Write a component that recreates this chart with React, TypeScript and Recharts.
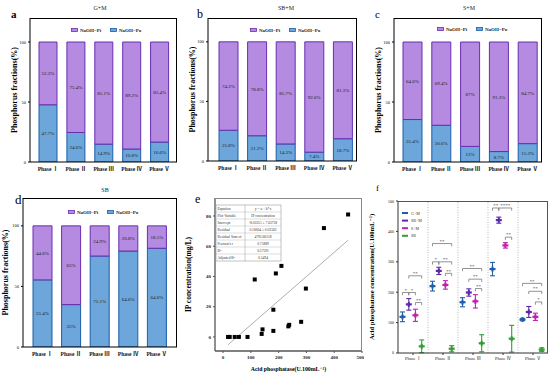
import {
  BarChart,
  Bar,
  XAxis,
  YAxis,
  LabelList,
  Legend,
  ScatterChart,
  Scatter,
  ErrorBar,
  ReferenceLine,
} from "recharts";

const SERIF = '"Liberation Serif", "Noto Sans CJK SC", "DejaVu Serif", serif';

const phases = ["Phase Ⅰ", "Phase Ⅱ", "Phase Ⅲ", "Phase Ⅳ", "Phase Ⅴ"];

// a – G+M
const gmPo = [47.7, 24.6, 14.9, 10.8, 16.6];
const gmPi = [52.3, 75.4, 85.1, 89.2, 83.4];
// b – SB+M
const sbmPo = [25.8, 21.2, 14.3, 7.4, 18.7];
const sbmPi = [74.2, 78.8, 85.7, 92.6, 81.3];
// c – S+M
const smPo = [35.4, 30.6, 13, 8.7, 15.3];
const smPi = [64.6, 69.4, 87, 91.3, 84.7];
// d – SB (printed labels of the last two Po bars say 64.6%)
const sbPo = [55.4, 35, 75.1, 79.2, 81.5];
const sbPi = [44.6, 65, 24.9, 20.8, 18.5];
const sbPoText = ["55.4%", "35%", "75.1%", "64.6%", "64.6%"];

// e – IP vs acid phosphatase
const acpValues = [18, 24, 42, 57, 88, 114, 139, 142, 181, 181, 190, 210, 235, 238, 281, 298, 363, 450];
const ipValues = [0, 0, 0, 0, 0, 38, 2, 5, 4, 18, 42, 47, 7, 8, 10, 32, 72, 81];
const fitIntercept = -8.03351;
const fitSlope = 0.16004;
const statNames = ["Equation", "Plot Variable", "Intercept", "Residual", "Residual Sum of", "Pearson's r", "R²", "Adjusted R²"];
const statValues = ["y = a + b*x", "IP concentration", "-8.03351 ± 7.63758", "0.16004 ± 0.03562", "4793.66518", "0.75889", "0.57591", "0.5494"];

// f – acid phosphatase by phase
const groupNames = ["G+M", "SB+M", "S+M", "SB"];
const gmAcp = [119, 220, 167, 276, 110];
const gmSd = [16, 16, 15, 22, 4];
const sbmAcp = [160, 270, 199, 437, 135];
const sbmSd = [19, 12, 12, 10, 18];
const smAcp = [124, 224, 170, 354, 119];
const smSd = [20, 14, 22, 9, 12];
const sbAcp = [22, 14, 32, 47, 11];
const sbSd = [21, 10, 28, 44, 6];
// significance brackets: phase, from group, to group, height, stars
const brPhase = [0, 0, 0, 0, 1, 1, 1, 1, 2, 2, 2, 3, 3, 3, 4, 4, 4];
const brFrom = [0, 1, 1, 2, 0, 0, 1, 2, 0, 1, 2, 0, 1, 2, 0, 1, 2];
const brTo = [1, 2, 3, 3, 3, 1, 3, 3, 3, 3, 3, 1, 3, 3, 3, 3, 3];
const brLevel = [199, 199, 254, 166, 360, 300, 300, 262, 278, 243, 212, 477, 477, 381, 229, 203, 168];
const brStars = ["*", "*", "**", "**", "**", "*", "**", "**", "**", "**", "**", "**", "****", "**", "**", "**", "*"];

const PURPLE_FILL = "#b48be0";
const PURPLE_LINE = "#6a2db2";
const BLUE_FILL = "#6ca6da";
const BLUE_LINE = "#1b5ea8";
const legendNames = ["NaOH−Pi", "NaOH−Po"];
const groupColors = ["#1f5fa8", "#5a2aa8", "#c21fae", "#2f9e32"];
const slot = [0.15, 0.36, 0.58, 0.79];

const pct = (v: number) => `${v}%`;

const stackPanels = [
  { key: "a", po: gmPo, pi: gmPi, poText: gmPo.map(pct), left: 30, top: 18, w: 147, h: 144, max: 120, padL: 4, padR: 3.5, bar: 18, legX: 71, legY: 30, labOff: 14 },
  { key: "b", po: sbmPo, pi: sbmPi, poText: sbmPo.map(pct), left: 208, top: 18, w: 149, h: 143, max: 120, padL: 6, padR: 0, bar: 19, legX: 250, legY: 30, labOff: 14 },
  { key: "c", po: smPo, pi: smPi, poText: smPo.map(pct), left: 394, top: 18, w: 148, h: 144, max: 120, padL: 4, padR: 0, bar: 19, legX: 437, legY: 29, labOff: 14 },
  { key: "d", po: sbPo, pi: sbPi, poText: sbPoText, left: 23, top: 198, w: 154, h: 149, max: 123, padL: 5, padR: 6, bar: 19, legX: 68, legY: 212, labOff: 12 },
];

function StackLegend() {
  const fills = [PURPLE_FILL, BLUE_FILL];
  const lines = [PURPLE_LINE, BLUE_LINE];
  return (
    <svg width={80} height={8} style={{ display: "block", overflow: "visible" }}>
      {legendNames.map((name, i) => (
        <g key={name} transform={`translate(${i * 39},0)`}>
          <rect x={0.5} y={2.5} width={6} height={3} fill={fills[i]} stroke={lines[i]} strokeWidth={0.8} />
          <text x={9} y={5.8} fontSize={5} fontWeight={700} fontFamily={SERIF} fill="#222">
            {name}
          </text>
        </g>
      ))}
    </svg>
  );
}

function StackPanel({ p }: { p: (typeof stackPanels)[number] }) {
  const yw = 30;
  const xh = 18;
  const mt = 2;
  const mr = 3;
  const originX = p.left - yw;
  const originY = p.top - mt;
  const data = phases.map((phase, i) => ({
    phase,
    po: p.po[i],
    pi: p.pi[i],
    poText: p.poText[i],
    piText: pct(p.pi[i]),
  }));

  return (
    <div style={{ position: "absolute", left: originX, top: originY }}>
      <BarChart
        width={yw + p.w + mr}
        height={mt + p.h + xh}
        data={data}
        margin={{ top: mt, right: mr, left: 0, bottom: 0 }}
        barSize={p.bar}
      >
        <XAxis
          dataKey="phase"
          height={xh}
          interval={0}
          padding={{ left: p.padL, right: p.padR }}
          tickLine={false}
          tickSize={3}
          axisLine={{ stroke: "#000" }}
          tick={{ fontSize: 5.5, fontWeight: 700, fill: "#111", fontFamily: SERIF }}
        />
        <YAxis
          width={yw}
          type="number"
          domain={[0, p.max]}
          ticks={[0, 50, 100]}
          allowDataOverflow
          tickSize={2}
          axisLine={{ stroke: "#000" }}
          tickLine={{ stroke: "#000" }}
          tick={{ fontSize: 4.5, fill: "#111", fontFamily: SERIF }}
          label={{
            value: "Phosphorus fractions(%)",
            angle: -90,
            position: "insideLeft",
            offset: p.labOff,
            style: { textAnchor: "middle", fontSize: 8, fontWeight: 700, fill: "#000", fontFamily: SERIF },
          }}
        />
        <Legend
          layout="horizontal"
          verticalAlign="middle"
          align="center"
          wrapperStyle={{ left: p.legX - originX, top: p.legY - 4 - originY, width: "auto", height: "auto" }}
          content={() => <StackLegend />}
        />
        <Bar dataKey="po" name="NaOH−Po" stackId="p" fill={BLUE_FILL} stroke={BLUE_LINE} strokeWidth={1} isAnimationActive={false}>
          <LabelList dataKey="poText" position="center" fontSize={5} fill="#222" fontFamily={SERIF} />
        </Bar>
        <Bar dataKey="pi" name="NaOH−Pi" stackId="p" fill={PURPLE_FILL} stroke={PURPLE_LINE} strokeWidth={1} isAnimationActive={false}>
          <LabelList dataKey="piText" position="center" fontSize={5} fill="#222" fontFamily={SERIF} />
        </Bar>
      </BarChart>
      <div
        style={{
          position: "absolute",
          left: yw,
          top: mt,
          width: p.w,
          height: p.h,
          borderTop: "1px solid #000",
          borderRight: "1px solid #000",
          boxSizing: "border-box",
          pointerEvents: "none",
        }}
      />
    </div>
  );
}

const SquareDot = (props: any) => (
  <rect x={props.cx - 2} y={props.cy - 2} width={4} height={4} fill="#000" />
);

function PanelE() {
  const points = acpValues.map((x, i) => ({ x, y: ipValues[i] }));
  const xMin = Math.min(...acpValues);
  const xMax = Math.max(...acpValues);
  return (
    <div style={{ position: "absolute", left: 180, top: 196 }}>
      <ScatterChart width={184} height={179} margin={{ top: 2, right: 2, left: 0, bottom: 0 }}>
        <XAxis
          type="number"
          dataKey="x"
          domain={[-29, 500]}
          ticks={[0, 100, 200, 300, 400, 500]}
          allowDataOverflow
          height={24}
          tickSize={2}
          axisLine={{ stroke: "#555", strokeWidth: 1.3 }}
          tickLine={{ stroke: "#555" }}
          tick={{ fontSize: 5, fontWeight: 700, fill: "#222", fontFamily: SERIF }}
          label={{
            value: "Acid phosphatase(U.100mL⁻¹)",
            position: "insideBottom",
            offset: 4,
            style: { fontSize: 5.8, fontWeight: 700, fill: "#000", fontFamily: SERIF },
          }}
        />
        <YAxis
          type="number"
          dataKey="y"
          domain={[-9.3, 91.9]}
          ticks={[0, 20, 40, 60, 80]}
          allowDataOverflow
          width={35}
          tickSize={2}
          axisLine={{ stroke: "#555", strokeWidth: 1.3 }}
          tickLine={{ stroke: "#555" }}
          tick={{ fontSize: 5, fontWeight: 700, fill: "#222", fontFamily: SERIF }}
          label={{
            value: "IP concentration(mg/L)",
            angle: -90,
            position: "insideLeft",
            offset: 8,
            style: { textAnchor: "middle", fontSize: 7.5, fontWeight: 700, fill: "#000", fontFamily: SERIF },
          }}
        />
        <ReferenceLine
          segment={[
            { x: xMin, y: fitIntercept + fitSlope * xMin },
            { x: xMax, y: fitIntercept + fitSlope * xMax },
          ]}
          stroke="#999"
          strokeWidth={0.8}
        />
        <Scatter data={points} fill="#000" shape={SquareDot} isAnimationActive={false} />
      </ScatterChart>
      <div
        style={{
          position: "absolute",
          left: 35,
          top: 2,
          width: 147,
          height: 153,
          borderTop: "1.5px solid #888",
          borderRight: "1.5px solid #888",
          boxSizing: "border-box",
          pointerEvents: "none",
        }}
      />
    </div>
  );
}

function PlusMark(props: any) {
  const { cx, cy, fill } = props;
  return (
    <g>
      <line x1={cx - 3} x2={cx + 3} y1={cy} y2={cy} stroke={fill} strokeWidth={2.2} />
      <line x1={cx} x2={cx} y1={cy - 2.5} y2={cy + 2.5} stroke={fill} strokeWidth={2} />
    </g>
  );
}

function StarText(props: any) {
  return (
    <text x={props.cx} y={props.cy - 0.8} textAnchor="middle" fontSize={5} fill="#333" fontFamily={SERIF}>
      {props.payload.text}
    </text>
  );
}

function FLegend() {
  return (
    <svg width={30} height={32} style={{ display: "block", overflow: "visible" }}>
      {groupNames.map((name, i) => (
        <g key={name} transform={`translate(0,${i * 7.6})`}>
          <line x1={0} x2={6} y1={3} y2={3} stroke={groupColors[i]} strokeWidth={2} />
          <text x={9} y={4.5} fontSize={4} fill="#333" fontFamily={SERIF}>
            {name}
          </text>
        </g>
      ))}
    </svg>
  );
}

function PanelF() {
  const means = [gmAcp, sbmAcp, smAcp, sbAcp];
  const sds = [gmSd, sbmSd, smSd, sbSd];
  const stars = brPhase.map((ph, k) => ({
    x: ph + (slot[brFrom[k]] + slot[brTo[k]]) / 2,
    y: brLevel[k],
    text: brStars[k],
  }));
  const drop = 9;
  return (
    <div style={{ position: "absolute", left: 368, top: 199 }}>
      <ScatterChart width={182} height={172} margin={{ top: 2, right: 2, left: 0, bottom: 0 }}>
        <XAxis
          type="number"
          dataKey="x"
          domain={[0, 5]}
          ticks={[0.5, 1.5, 2.5, 3.5, 4.5]}
          tickFormatter={(v: number) => phases[Math.floor(v)]}
          allowDataOverflow
          height={18}
          tickSize={2}
          axisLine={{ stroke: "#333" }}
          tickLine={{ stroke: "#333" }}
          tick={{ fontSize: 4.5, fill: "#222", fontFamily: SERIF }}
        />
        <YAxis
          type="number"
          dataKey="y"
          domain={[0, 500]}
          ticks={[0, 100, 200, 300, 400, 500]}
          allowDataOverflow
          width={30}
          tickSize={2}
          axisLine={{ stroke: "#333" }}
          tickLine={{ stroke: "#333" }}
          tick={{ fontSize: 4, fill: "#222", fontFamily: SERIF }}
          label={{
            value: "Acid phosphatase concentration(U.100mL⁻¹)",
            angle: -90,
            position: "insideLeft",
            offset: 4,
            style: { textAnchor: "middle", fontSize: 6.6, fontWeight: 700, fill: "#000", fontFamily: SERIF },
          }}
        />
        <Legend
          layout="horizontal"
          verticalAlign="middle"
          align="center"
          wrapperStyle={{ left: 34, top: 11, width: "auto", height: "auto" }}
          content={() => <FLegend />}
        />
        {[1, 2, 3, 4].map((k) => (
          <ReferenceLine key={`sep${k}`} x={k} stroke="#aaa" strokeDasharray="1 1.5" strokeWidth={0.8} />
        ))}
        {brPhase.flatMap((ph, k) => {
          const x1 = ph + slot[brFrom[k]];
          const x2 = ph + slot[brTo[k]];
          const y = brLevel[k];
          return [
            <ReferenceLine key={`bh${k}`} segment={[{ x: x1, y }, { x: x2, y }]} stroke="#777" strokeWidth={0.8} />,
            <ReferenceLine key={`bl${k}`} segment={[{ x: x1, y }, { x: x1, y: y - drop }]} stroke="#777" strokeWidth={0.8} />,
            <ReferenceLine key={`br${k}`} segment={[{ x: x2, y }, { x: x2, y: y - drop }]} stroke="#777" strokeWidth={0.8} />,
          ];
        })}
        {groupNames.map((name, s) => (
          <Scatter
            key={name}
            name={name}
            data={phases.map((_, i) => ({ x: i + slot[s], y: means[s][i], err: sds[s][i] }))}
            fill={groupColors[s]}
            shape={PlusMark}
            isAnimationActive={false}
          >
            <ErrorBar dataKey="err" direction="y" width={2.5} stroke={groupColors[s]} strokeWidth={1.1} />
          </Scatter>
        ))}
        <Scatter data={stars} shape={StarText} isAnimationActive={false} />
      </ScatterChart>
      <div
        style={{
          position: "absolute",
          left: 30,
          top: 2,
          width: 150,
          height: 152,
          borderTop: "1px solid #555",
          borderRight: "1px solid #555",
          boxSizing: "border-box",
          pointerEvents: "none",
        }}
      />
    </div>
  );
}

function Overlay() {
  const titles = [
    { t: "G+M", x: 100, y: 10 },
    { t: "SB+M", x: 286, y: 10 },
    { t: "S+M", x: 469, y: 10 },
    { t: "SB", x: 105, y: 192 },
  ];
  const letters = [
    { t: "a", x: 11, y: 18, s: 11, b: 700 },
    { t: "b", x: 197, y: 18, s: 12, b: 400 },
    { t: "c", x: 375, y: 18, s: 11, b: 400 },
    { t: "d", x: 15, y: 204, s: 13, b: 400 },
    { t: "e", x: 195, y: 203, s: 12, b: 400 },
    { t: "f", x: 376, y: 191, s: 9, b: 400 },
  ];
  const tx = 216;
  const ty = 205;
  const rowH = 7;
  const c1 = 29;
  const c2 = 36;
  return (
    <svg
      width={550}
      height={374}
      style={{ position: "absolute", left: 0, top: 0, pointerEvents: "none" }}
      fontFamily={SERIF}
    >
      {titles.map((d) => (
        <text key={d.t} x={d.x} y={d.y} fontSize={6} textAnchor="middle" fill="#222">
          {d.t}
        </text>
      ))}
      {letters.map((d) => (
        <text key={d.t} x={d.x} y={d.y} fontSize={d.s} fontWeight={d.b} fill="#000">
          {d.t}
        </text>
      ))}
      <g>
        <rect x={tx} y={ty} width={c1 + c2} height={rowH * statNames.length} fill="#fff" stroke="#999" strokeWidth={0.6} />
        <line x1={tx + c1} x2={tx + c1} y1={ty} y2={ty + rowH * statNames.length} stroke="#999" strokeWidth={0.5} />
        {statNames.map((name, i) => (
          <g key={name}>
            {i > 0 && <line x1={tx} x2={tx + c1 + c2} y1={ty + i * rowH} y2={ty + i * rowH} stroke="#aaa" strokeWidth={0.4} />}
            <text x={tx + 1.5} y={ty + i * rowH + 4.8} fontSize={3.6} fill="#333">
              {name}
            </text>
            <text x={tx + c1 + c2 / 2} y={ty + i * rowH + 4.8} fontSize={3.6} fill="#333" textAnchor="middle">
              {statValues[i]}
            </text>
          </g>
        ))}
      </g>
    </svg>
  );
}

export default function App() {
  return (
    <div
      style={{
        position: "absolute",
        left: 0,
        top: 0,
        width: 550,
        height: 374,
        background: "#fff",
        overflow: "hidden",
        fontFamily: SERIF,
      }}
    >
      {stackPanels.map((p) => (
        <StackPanel key={p.key} p={p} />
      ))}
      <PanelE />
      <PanelF />
      <Overlay />
    </div>
  );
}
